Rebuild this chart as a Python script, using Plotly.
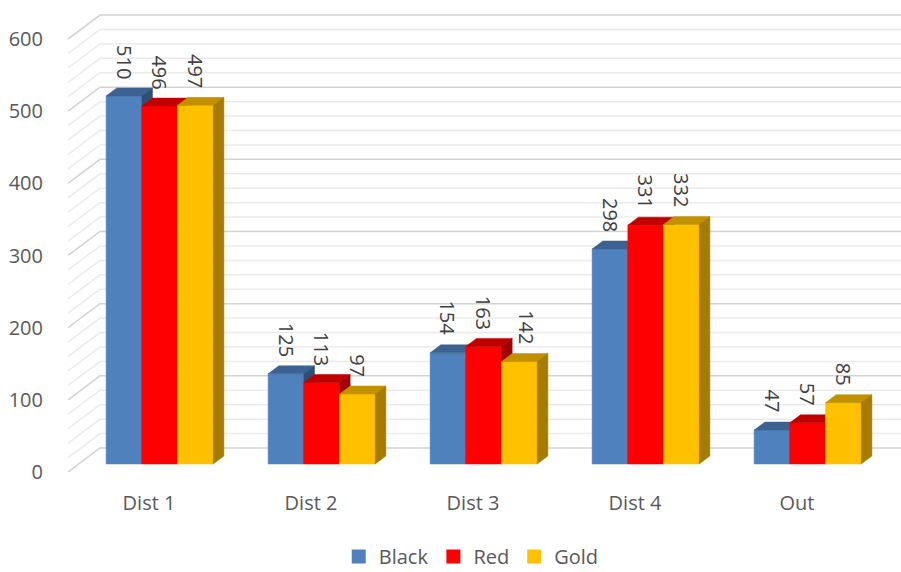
import plotly.graph_objects as go

# ---- data ----
categories = ["Dist 1", "Dist 2", "Dist 3", "Dist 4", "Out"]
series_names = ["Black", "Red", "Gold"]
black = [510, 125, 154, 298, 47]
red = [496, 113, 163, 331, 57]
gold = [497, 97, 142, 332, 85]
y_ticks = [0, 100, 200, 300, 400, 500, 600]
grid_step = 20
grid_max = 600

# ---- styles ----
front_colors = ["#4F81BD", "#FF0000", "#FFC000"]
top_colors = ["#3B6291", "#C00000", "#C29100"]
side_colors = ["#2F4E74", "#A00000", "#A67C00"]
font_family = "Open Sans"
label_xshift = {(2, 2): 7}   # Excel nudged this data label sideways

# geometry (axis units)
PX_PER_X = 162.0
PX_PER_Y = 0.7216
DX = 32 / PX_PER_X        # full depth in x units
DY = 24 / PX_PER_Y        # full depth in y units
BW = 35.7 / PX_PER_X      # bar width
X_MIN = -0.5
X_MAX = X_MIN + 833 / PX_PER_X
Y_MAX = 462 / PX_PER_Y

fig = go.Figure()

# ---- 3D walls gridlines ----
maj_x, maj_y, min_x, min_y = [], [], [], []
for v in range(0, grid_max + 1, grid_step):
    xs = [X_MIN, X_MIN + DX, X_MAX + 1, None]
    ys = [v, v + DY, v + DY, None]
    if v % 100 == 0:
        maj_x += xs; maj_y += ys
    else:
        min_x += xs; min_y += ys
fig.add_trace(go.Scatter(x=min_x, y=min_y, mode="lines", line=dict(color="#EBEBEB", width=1.5),
                         hoverinfo="skip", showlegend=False))
fig.add_trace(go.Scatter(x=maj_x, y=maj_y, mode="lines", line=dict(color="#D3D3D3", width=1.5),
                         hoverinfo="skip", showlegend=False))

# ---- 3D bars ----
all_series = [black, red, gold]
dx3, dy3 = DX / 3, DY / 3
annotations = []
for s, vals in enumerate(all_series):
    fx, fy, tx, ty, sx, sy = [], [], [], [], [], []
    for j, v in enumerate(vals):
        xl = j - 1.5 * BW + s * BW + dx3
        xr = xl + BW
        b = dy3
        t = b + v
        fx += [xl, xr, xr, xl, xl, None]; fy += [b, b, t, t, b, None]
        tx += [xl, xr, xr + dx3, xl + dx3, xl, None]; ty += [t, t, t + dy3, t + dy3, t, None]
        sx += [xr, xr + dx3, xr + dx3, xr, xr, None]; sy += [b, b + dy3, t + dy3, t, b, None]
        annotations.append(dict(x=(xl + xr) / 2, y=t, text=str(v), textangle=90,
                                xanchor="center", yanchor="bottom", yshift=15,
                                xshift=label_xshift.get((s, j), 0), showarrow=False,
                                font=dict(family=font_family, size=20, color="#404040")))
    for px_, py_, col in [(fx, fy, front_colors[s]), (tx, ty, top_colors[s]), (sx, sy, side_colors[s])]:
        fig.add_trace(go.Scatter(x=px_, y=py_, mode="lines", fill="toself", fillcolor=col,
                                 line=dict(color=col, width=0.5), hoverinfo="skip", showlegend=False))

# legend entries
for s, name in enumerate(series_names):
    fig.add_trace(go.Scatter(x=[None], y=[None], mode="markers", name=name,
                             marker=dict(symbol="square", size=14, color=front_colors[s])))

fig.update_layout(
    width=901, height=572,
    margin=dict(l=68, r=0, t=10, b=100),
    paper_bgcolor="white", plot_bgcolor="white",
    font=dict(family=font_family, size=20, color="#595959"),
    annotations=annotations,
    legend=dict(orientation="h", xref="container", yref="container",
                x=0.523, xanchor="center", y=0.027, yanchor="middle",
                font=dict(size=20, color="#595959"), itemclick=False),
    xaxis=dict(range=[X_MIN, X_MAX], tickvals=list(range(len(categories))), ticktext=categories,
               showgrid=False, zeroline=False, showline=False, ticks="outside", ticklen=13,
               tickcolor="rgba(0,0,0,0)", tickfont=dict(size=20, color="#595959"), fixedrange=True),
    yaxis=dict(range=[0, Y_MAX], tickvals=y_ticks, showgrid=False, zeroline=False, showline=False,
               ticks="outside", ticklen=20, tickcolor="rgba(0,0,0,0)",
               tickfont=dict(size=20, color="#595959"), fixedrange=True),
)

fig.write_html("out.html")
